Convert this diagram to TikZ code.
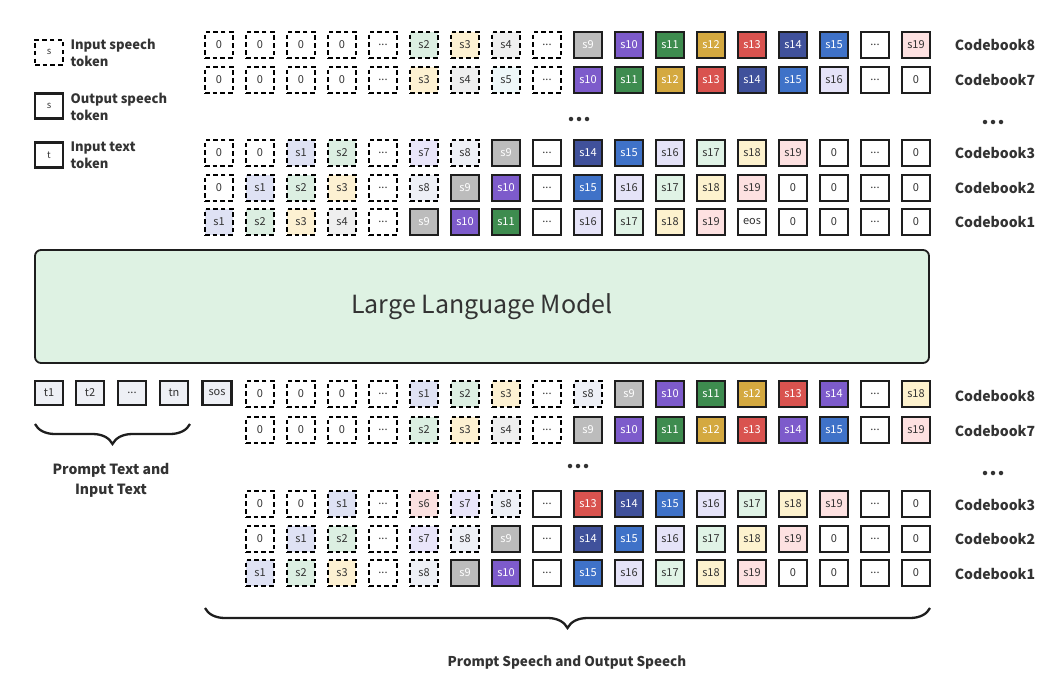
\documentclass[tikz,border=0pt]{standalone}
\usepackage{fontspec}
\setmainfont{Noto Sans CJK SC}
\usetikzlibrary{decorations.pathreplacing}
\definecolor{w}{HTML}{FFFFFF}
\definecolor{col1}{HTML}{DFE2F4}
\definecolor{col2}{HTML}{DCEFE2}
\definecolor{col3}{HTML}{FDF1D2}
\definecolor{col4}{HTML}{EFEFEF}
\definecolor{col5}{HTML}{EEF7F8}
\definecolor{col6}{HTML}{FBE0E0}
\definecolor{col7}{HTML}{E9E5FA}
\definecolor{col8}{HTML}{EEF0F6}
\definecolor{col9}{HTML}{BCBCBC}
\definecolor{col10}{HTML}{7D5BCB}
\definecolor{col11}{HTML}{3E8C4F}
\definecolor{col12}{HTML}{D4A940}
\definecolor{col13}{HTML}{D9534F}
\definecolor{col14}{HTML}{40519B}
\definecolor{col15}{HTML}{3F72C8}
\definecolor{col16}{HTML}{E5E3F8}
\definecolor{col17}{HTML}{E0F3E6}
\definecolor{col18}{HTML}{FDF2CE}
\definecolor{col19}{HTML}{FDE1E1}
\definecolor{txtc}{HTML}{333333}
\definecolor{linec}{HTML}{1E1E1E}
\definecolor{llmfill}{HTML}{DEF2E3}
\definecolor{ttok}{HTML}{EEF0F5}
\newcommand{\tdots}{{.}{.}{.}}
\newcommand{\tokrow}[3]{%
  \foreach \xc/\ks/\lb/\fc in {#3} {\node[\ks, fill=\fc] (#1-\xc) at ({219+41*\xc},#2) {\lb};}}
\begin{document}
\begin{tikzpicture}[x=1pt,y=-1pt,
  tok/.style={minimum width=28pt, minimum height=26pt, inner sep=0pt, font=\fontsize{11}{11}\selectfont, text=txtc},
  inp/.style={tok, draw=black, line width=2pt, dash pattern=on 4.5pt off 3.2pt},
  outp/.style={tok, draw=linec, line width=2.1pt},
  dk/.style={outp, text=white},
  ttk/.style={outp, minimum height=24pt, fill=ttok},
  cb/.style={font=\bfseries\fontsize{14}{14}\selectfont, text=txtc},
  leg/.style={anchor=west, align=left, font=\bfseries\fontsize{13}{17}\selectfont, text=txtc},
  legbox/.style={minimum width=28pt, minimum height=25pt, inner sep=0pt, font=\fontsize{9.5}{9.5}\selectfont, text=txtc},
  lbl/.style={align=center, font=\bfseries\fontsize{14}{20}\selectfont, text=txtc},
  brc/.style={draw=linec, line width=2.3pt, decorate, decoration={brace, amplitude=20pt, mirror}},
  dot/.style={circle, fill=txtc, inner sep=0pt, minimum size=4.5pt}
]
\useasboundingbox (0,0) rectangle (1063,688);

% legend
\node[legbox, draw=black, line width=2pt, dash pattern=on 4.5pt off 3.2pt] (legA) at (49,52) {s};
\node[leg] (legAt) at (67,52.5) {Input speech\\token};
\node[legbox, draw=linec, line width=2.1pt] (legB) at (49,106) {s};
\node[leg] (legBt) at (67,106.5) {Output speech\\token};
\node[legbox, draw=linec, line width=2.1pt] (legC) at (49,155) {t};
\node[leg] (legCt) at (67,155.5) {Input text\\token};

% top (output) rows
\tokrow{a8}{45}{0/inp/0/w,1/inp/0/w,2/inp/0/w,3/inp/0/w,4/inp/\tdots/w,5/inp/s2/col2,6/inp/s3/col3,7/inp/s4/col4,8/inp/\tdots/w,9/dk/s9/col9,10/dk/s10/col10,11/dk/s11/col11,12/dk/s12/col12,13/dk/s13/col13,14/dk/s14/col14,15/dk/s15/col15,16/outp/\tdots/w,17/outp/s19/col19}
\tokrow{a7}{80}{0/inp/0/w,1/inp/0/w,2/inp/0/w,3/inp/0/w,4/inp/\tdots/w,5/inp/s3/col3,6/inp/s4/col4,7/inp/s5/col5,8/inp/\tdots/w,9/dk/s10/col10,10/dk/s11/col11,11/dk/s12/col12,12/dk/s13/col13,13/dk/s14/col14,14/dk/s15/col15,15/outp/s16/col16,16/outp/\tdots/w,17/outp/0/w}
\tokrow{a3}{153}{0/inp/0/w,1/inp/0/w,2/inp/s1/col1,3/inp/s2/col2,4/inp/\tdots/w,5/inp/s7/col7,6/inp/s8/col8,7/dk/s9/col9,8/outp/\tdots/w,9/dk/s14/col14,10/dk/s15/col15,11/outp/s16/col16,12/outp/s17/col17,13/outp/s18/col18,14/outp/s19/col19,15/outp/0/w,16/outp/\tdots/w,17/outp/0/w}
\tokrow{a2}{188}{0/inp/0/w,1/inp/s1/col1,2/inp/s2/col2,3/inp/s3/col3,4/inp/\tdots/w,5/inp/s8/col8,6/dk/s9/col9,7/dk/s10/col10,8/outp/\tdots/w,9/dk/s15/col15,10/outp/s16/col16,11/outp/s17/col17,12/outp/s18/col18,13/outp/s19/col19,14/outp/0/w,15/outp/0/w,16/outp/\tdots/w,17/outp/0/w}
\tokrow{a1}{222}{0/inp/s1/col1,1/inp/s2/col2,2/inp/s3/col3,3/inp/s4/col4,4/inp/\tdots/w,5/dk/s9/col9,6/dk/s10/col10,7/dk/s11/col11,8/outp/\tdots/w,9/outp/s16/col16,10/outp/s17/col17,11/outp/s18/col18,12/outp/s19/col19,13/outp/eos/w,14/outp/0/w,15/outp/0/w,16/outp/\tdots/w,17/outp/0/w}

\node[cb] (la8) at (995,45) {Codebook8};
\node[cb] (la7) at (995,80) {Codebook7};
\node[cb] (la3) at (995,153) {Codebook3};
\node[cb] (la2) at (995,188) {Codebook2};
\node[cb] (la1) at (995,222) {Codebook1};
\node[dot] (dta1) at (571,119) {}; \node[dot] (dta2) at (579,119) {}; \node[dot] (dta3) at (587,119) {};
\node[dot] (dtb1) at (985,122) {}; \node[dot] (dtb2) at (993,122) {}; \node[dot] (dtb3) at (1001,122) {};

% LLM
\node[draw=linec, line width=1.8pt, fill=llmfill, rounded corners=6pt, minimum width=894pt, minimum height=113pt,
  font=\fontsize{25}{25}\selectfont, text=txtc] (llm) at (482,306.5) {Large Language Model};

% text tokens
\node[ttk] (t1) at (49,393) {t1};
\node[ttk] (t2) at (90,393) {t2};
\node[ttk] (tdots) at (132,393) {\tdots};
\node[ttk] (tn) at (174,393) {tn};
\node[ttk, minimum width=29pt] (sos) at (217,393) {sos};

% bottom (input) rows
\tokrow{b8}{394}{1/inp/0/w,2/inp/0/w,3/inp/0/w,4/inp/\tdots/w,5/inp/s1/col1,6/inp/s2/col2,7/inp/s3/col3,8/inp/\tdots/w,9/inp/s8/col8,10/dk/s9/col9,11/dk/s10/col10,12/dk/s11/col11,13/dk/s12/col12,14/dk/s13/col13,15/dk/s14/col10,16/outp/\tdots/w,17/outp/s18/col18}
\tokrow{b7}{430}{1/inp/0/w,2/inp/0/w,3/inp/0/w,4/inp/\tdots/w,5/inp/s2/col2,6/inp/s3/col3,7/inp/s4/col4,8/inp/\tdots/w,9/dk/s9/col9,10/dk/s10/col10,11/dk/s11/col11,12/dk/s12/col12,13/dk/s13/col13,14/dk/s14/col10,15/dk/s15/col15,16/outp/\tdots/w,17/outp/s19/col19}
\tokrow{b3}{504}{1/inp/0/w,2/inp/0/w,3/inp/s1/col1,4/inp/\tdots/w,5/inp/s6/col6,6/inp/s7/col7,7/inp/s8/col8,8/outp/\tdots/w,9/dk/s13/col13,10/dk/s14/col14,11/dk/s15/col15,12/outp/s16/col16,13/outp/s17/col17,14/outp/s18/col18,15/outp/s19/col19,16/outp/\tdots/w,17/outp/0/w}
\tokrow{b2}{539}{1/inp/0/w,2/inp/s1/col1,3/inp/s2/col2,4/inp/\tdots/w,5/inp/s7/col7,6/inp/s8/col8,7/dk/s9/col9,8/outp/\tdots/w,9/dk/s14/col14,10/dk/s15/col15,11/outp/s16/col16,12/outp/s17/col17,13/outp/s18/col18,14/outp/s19/col19,15/outp/0/w,16/outp/\tdots/w,17/outp/0/w}
\tokrow{b1}{573}{1/inp/s1/col1,2/inp/s2/col2,3/inp/s3/col3,4/inp/\tdots/w,5/inp/s8/col8,6/dk/s9/col9,7/dk/s10/col10,8/outp/\tdots/w,9/dk/s15/col15,10/outp/s16/col16,11/outp/s17/col17,12/outp/s18/col18,13/outp/s19/col19,14/outp/0/w,15/outp/0/w,16/outp/\tdots/w,17/outp/0/w}

\node[cb] (lb8) at (995,396) {Codebook8};
\node[cb] (lb7) at (995,431) {Codebook7};
\node[cb] (lb3) at (995,505) {Codebook3};
\node[cb] (lb2) at (995,539) {Codebook2};
\node[cb] (lb1) at (995,574) {Codebook1};
\node[dot] (dtc1) at (570,466) {}; \node[dot] (dtc2) at (578,466) {}; \node[dot] (dtc3) at (586,466) {};
\node[dot] (dtd1) at (985,473) {}; \node[dot] (dtd2) at (993,473) {}; \node[dot] (dtd3) at (1001,473) {};

% braces
\coordinate (bra) at (35,424);
\coordinate (brb) at (190,424);
\draw[brc] (bra) -- (brb);
\node[lbl] (ptxt) at (111,480) {Prompt Text and\\Input Text};
\coordinate (brc1) at (205,608);
\coordinate (brc2) at (930,608);
\draw[brc] (brc1) -- (brc2);
\node[lbl, font=\bfseries\fontsize{13.5}{18}\selectfont] (pspeech) at (567,662) {Prompt Speech and Output Speech};
\end{tikzpicture}
\end{document}
